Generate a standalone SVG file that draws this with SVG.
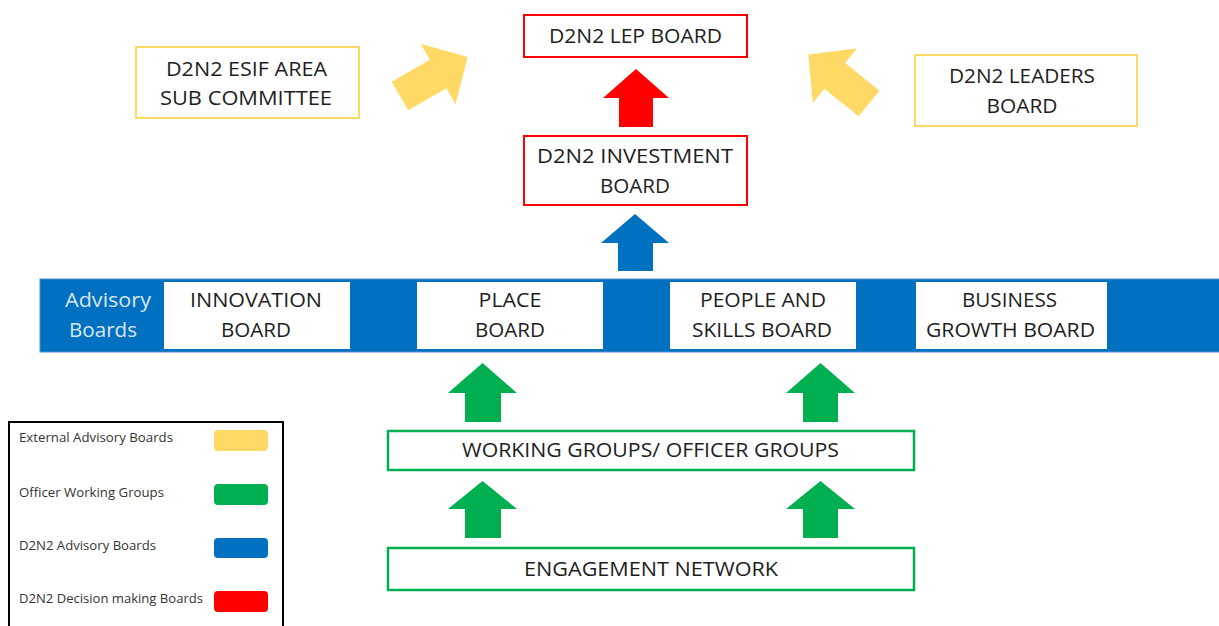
<svg xmlns="http://www.w3.org/2000/svg" width="1219" height="626" viewBox="0 0 1219 626">
<style>
.t{font-family:"Open Sans","Liberation Sans",sans-serif;font-size:20px;fill:#1e1e1e;text-anchor:middle}
.adv{font-family:"Open Sans","Liberation Sans",sans-serif;font-size:20px;fill:#dbe6f3;text-anchor:middle}
.lg{font-family:"Open Sans","Liberation Sans",sans-serif;font-size:12px;fill:#333}
.red{fill:#fff;stroke:#ff0000;stroke-width:2}
.yel{fill:#fff;stroke:#ffd966;stroke-width:2}
.grn{fill:#fff;stroke:#00b050;stroke-width:2.5}
.wb{fill:#fff}
</style>
<defs>
<polygon id="ya" points="0,-16.5 44,-16.5 44,-35 78,0 44,35 44,16.5 0,16.5" fill="#ffd966"/>
</defs>
<rect width="1219" height="626" fill="#fff"/>

<g id="advisory-bar">
<rect x="40" y="279" width="1185" height="73" fill="#0070c0" stroke="#4a90d0" stroke-width="1"/>
<text class="adv" x="108" y="307" textLength="86" lengthAdjust="spacingAndGlyphs">Advisory</text>
<text class="adv" x="103" y="337" textLength="68" lengthAdjust="spacingAndGlyphs">Boards</text>
</g>

<g id="lep-board">
<rect class="red" x="524" y="15" width="223" height="42"/>
<text class="t" x="635.5" y="43" textLength="173" lengthAdjust="spacingAndGlyphs">D2N2 LEP BOARD</text>
</g>

<g id="investment-board">
<rect class="red" x="524" y="136" width="223" height="69"/>
<text class="t" x="635" y="163" textLength="196" lengthAdjust="spacingAndGlyphs">D2N2 INVESTMENT</text>
<text class="t" x="635" y="193" textLength="70" lengthAdjust="spacingAndGlyphs">BOARD</text>
</g>

<g id="esif-committee">
<rect class="yel" x="136" y="47" width="223" height="71"/>
<text class="t" x="246.5" y="76" textLength="161" lengthAdjust="spacingAndGlyphs">D2N2 ESIF AREA</text>
<text class="t" x="246" y="105" textLength="172" lengthAdjust="spacingAndGlyphs">SUB COMMITTEE</text>
</g>

<g id="leaders-board">
<rect class="yel" x="915" y="55" width="222" height="71"/>
<text class="t" x="1022" y="83" textLength="146" lengthAdjust="spacingAndGlyphs">D2N2 LEADERS</text>
<text class="t" x="1022" y="113" textLength="71" lengthAdjust="spacingAndGlyphs">BOARD</text>
</g>

<g id="innovation-board">
<rect class="wb" x="164" y="282" width="186" height="67"/>
<text class="t" x="256" y="307" textLength="132" lengthAdjust="spacingAndGlyphs">INNOVATION</text>
<text class="t" x="256" y="337" textLength="70" lengthAdjust="spacingAndGlyphs">BOARD</text>
</g>

<g id="place-board">
<rect class="wb" x="417" y="282" width="186" height="67"/>
<text class="t" x="510" y="307" textLength="63" lengthAdjust="spacingAndGlyphs">PLACE</text>
<text class="t" x="510" y="337" textLength="70" lengthAdjust="spacingAndGlyphs">BOARD</text>
</g>

<g id="people-skills-board">
<rect class="wb" x="670" y="282" width="186" height="67"/>
<text class="t" x="763" y="307" textLength="126" lengthAdjust="spacingAndGlyphs">PEOPLE AND</text>
<text class="t" x="762" y="337" textLength="140" lengthAdjust="spacingAndGlyphs">SKILLS BOARD</text>
</g>

<g id="business-growth-board">
<rect class="wb" x="916" y="282" width="191" height="67"/>
<text class="t" x="1009.5" y="307" textLength="95" lengthAdjust="spacingAndGlyphs">BUSINESS</text>
<text class="t" x="1010.5" y="337" textLength="169" lengthAdjust="spacingAndGlyphs">GROWTH BOARD</text>
</g>

<g id="working-groups">
<rect class="grn" x="388" y="431" width="526" height="39"/>
<text class="t" x="650.5" y="457" textLength="377" lengthAdjust="spacingAndGlyphs">WORKING GROUPS/ OFFICER GROUPS</text>
</g>

<g id="engagement-network">
<rect class="grn" x="388" y="548" width="526" height="42"/>
<text class="t" x="651" y="576" textLength="254" lengthAdjust="spacingAndGlyphs">ENGAGEMENT NETWORK</text>
</g>

<g id="connectors">
<use href="#ya" transform="translate(400,96) rotate(-30)"/>
<use href="#ya" transform="translate(869,103.5) rotate(-141)"/>
<polygon points="619,127 619,98 603,98 636,69 669,98 653,98 653,127" fill="#ff0000"/>
<polygon points="618,271 618,243 601,243 635,214 669,243 653,243 653,271" fill="#0070c0"/>
<polygon points="465,422 465,393 448,393 482.5,363 517,393 501,393 501,422" fill="#00b050"/>
<polygon points="803,422 803,393 786,393 820.5,363 855,393 838,393 838,422" fill="#00b050"/>
<polygon points="465,538 465,509 448,509 482.5,481 517,509 501,509 501,538" fill="#00b050"/>
<polygon points="803,538 803,509 786,509 820.5,481 855,509 838,509 838,538" fill="#00b050"/>
</g>

<g id="legend">
<rect x="9" y="422" width="274" height="220" fill="#fff" stroke="#000" stroke-width="2"/>
<text class="lg" x="19" y="442" textLength="154" lengthAdjust="spacingAndGlyphs">External Advisory Boards</text>
<text class="lg" x="19" y="497" textLength="145" lengthAdjust="spacingAndGlyphs">Officer Working Groups</text>
<text class="lg" x="19" y="550" textLength="137" lengthAdjust="spacingAndGlyphs">D2N2 Advisory Boards</text>
<text class="lg" x="19" y="603" textLength="184" lengthAdjust="spacingAndGlyphs">D2N2 Decision making Boards</text>
<rect x="214" y="430" width="54" height="21" rx="4" fill="#ffd966"/>
<rect x="214" y="484" width="54" height="21" rx="4" fill="#00b050"/>
<rect x="214" y="538" width="54" height="20" rx="4" fill="#0070c0"/>
<rect x="214" y="591" width="54" height="21" rx="4" fill="#ff0000"/>
</g>
</svg>
